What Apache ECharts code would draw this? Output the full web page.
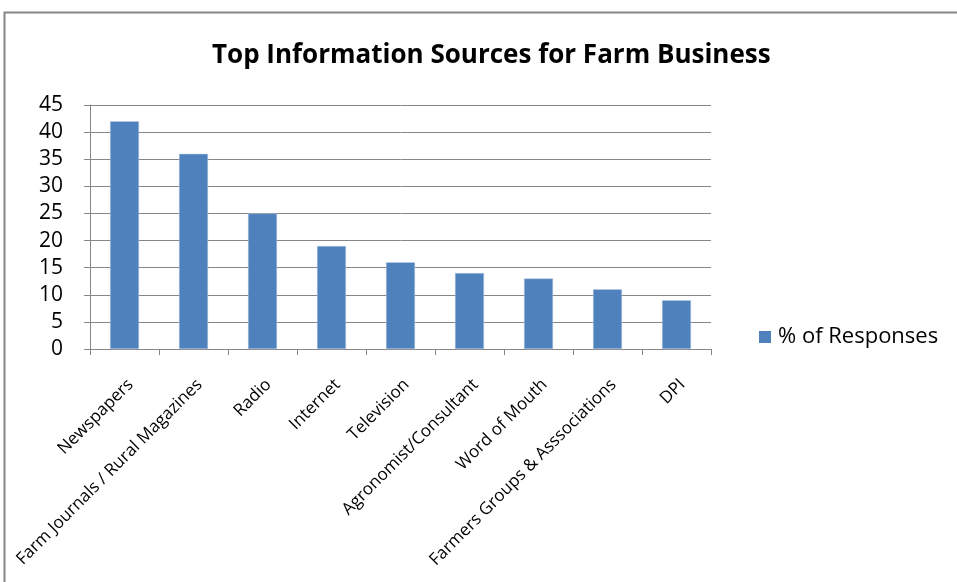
<!DOCTYPE html>
<html><head><meta charset="utf-8">
<script src="https://cdn.jsdelivr.net/npm/echarts@6/dist/echarts.min.js"></script>
<style>html,body{margin:0;padding:0;background:#fff}#c{width:957px;height:582px}</style>
</head><body><div id="c"></div>
<script>
const categories = ["Newspapers","Farm Journals / Rural Magazines","Radio","Internet","Television","Agronomist/Consultant","Word of Mouth","Farmers Groups & Asssociations","DPI"];
const responses = [42,36,25,19,16,14,13,11,9];
const seriesName = "% of Responses";
const titleText = "Top Information Sources for Farm Business";

const chart = echarts.init(document.getElementById('c'));
chart.setOption({
  animation:false,
  backgroundColor:'#fff',
  graphic:[{type:'rect',shape:{x:4.5,y:12.5,width:1000,height:1000},style:{fill:'none',stroke:'#868686',lineWidth:2}}],
  title:{text:titleText,left:207,top:38,textStyle:{fontFamily:'Open Sans',fontWeight:'bold',fontSize:26,color:'#000'}},
  legend:{left:754,top:321,icon:'rect',itemWidth:12,itemHeight:12,itemGap:8,
    itemStyle:{borderWidth:0},
    textStyle:{fontFamily:'Open Sans',fontSize:22,color:'#000',padding:[0,0,0,2]},data:[seriesName]},
  grid:{left:90,right:246,top:105,bottom:233,containLabel:false},
  xAxis:{type:'category',data:categories,
    axisLine:{lineStyle:{color:'#868686',width:1}},
    axisTick:{show:true,alignWithLabel:false,length:6,lineStyle:{color:'#868686'}},
    axisLabel:{rotate:45,interval:0,margin:27,verticalAlign:'top',fontFamily:'Open Sans',fontSize:17,color:'#000'}},
  yAxis:{type:'value',min:0,max:45,interval:5,
    axisLine:{show:true,lineStyle:{color:'#868686'}},
    axisTick:{show:true,length:6,lineStyle:{color:'#868686'}},
    splitLine:{lineStyle:{color:'#868686',width:1}},
    axisLabel:{fontFamily:'Open Sans',fontSize:21,color:'#000',margin:27}},
  series:[{name:seriesName,type:'bar',data:responses,barWidth:29,
    itemStyle:{color:'#4F81BD',borderColor:'#B9CDE5',borderWidth:0.5}}]
});
</script></body></html>
